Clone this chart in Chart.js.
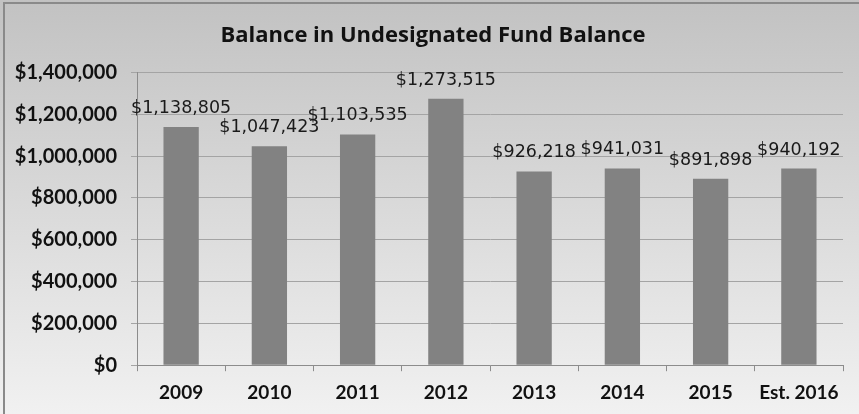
<!DOCTYPE html>
<html>
<head>
<meta charset="utf-8">
<script src="https://cdn.jsdelivr.net/npm/chart.js@4"></script>
<style>
  html, body { margin: 0; padding: 0; background: #fff; }
  #wrap { width: 859px; height: 414px; position: relative; }
</style>
</head>
<body>
<div id="wrap"><canvas id="myChart" width="859" height="414"></canvas></div>
<script>
"use strict";

const years = ['2009', '2010', '2011', '2012', '2013', '2014', '2015', 'Est. 2016'];
const balances = [1138805, 1047423, 1103535, 1273515, 926218, 941031, 891898, 940192];
const yTicks = [0, 200000, 400000, 600000, 800000, 1000000, 1200000, 1400000];

function money(v) {
    return '$' + v.toLocaleString('en-US');
}

// gray gradient behind everything, plus the thin frame at the top/left
const background = {
    id: 'background',
    beforeDraw(chart) {
        const ctx = chart.ctx;
        const w = chart.width, h = chart.height;
        ctx.save();
        let g = ctx.createLinearGradient(0, 0, 0, h);
        g.addColorStop(0, '#c2c2c2');
        g.addColorStop(1, '#f1f1f1');
        ctx.fillStyle = g;
        ctx.fillRect(0, 0, w, h);
        ctx.strokeStyle = '#8a8a8a';
        ctx.lineWidth = 2;
        ctx.beginPath();
        ctx.moveTo(4, h);
        ctx.lineTo(4, 3);
        ctx.lineTo(w, 3);
        ctx.stroke();
        ctx.restore();
    }
};

// value labels above each bar
const barLabels = {
    id: 'barLabels',
    afterDatasetsDraw(chart) {
        const ctx = chart.ctx;
        const meta = chart.getDatasetMeta(0);
        ctx.save();
        ctx.font = '17.5px "DejaVu Sans"';
        ctx.fillStyle = '#1a1a1a';
        ctx.textAlign = 'center';
        ctx.textBaseline = 'alphabetic';
        meta.data.forEach((bar, i) => {
            ctx.fillText(money(balances[i]), bar.x, bar.y - 14);
        });
        ctx.restore();
    }
};

const ctx = document.getElementById('myChart').getContext('2d');
const chart = new Chart(ctx, {
    type: 'bar',
    data: {
        labels: years,
        datasets: [{
            data: balances,
            backgroundColor: '#828282',
            borderWidth: 0,
            barPercentage: 0.8,
            categoryPercentage: 0.5
        }]
    },
    options: {
        responsive: false,
        animation: false,
        layout: {
            padding: { left: 7, right: 0, top: 0, bottom: 0 }
        },
        plugins: {
            legend: { display: false },
            tooltip: { enabled: false },
            title: {
                display: true,
                text: 'Balance in Undesignated Fund Balance',
                color: '#111',
                font: { family: 'Open Sans', size: 22, weight: 'bold' },
                padding: { top: 23, bottom: 23 }
            }
        },
        scales: {
            x: {
                grid: {
                    drawOnChartArea: false,
                    tickLength: 6,
                    color: '#8c8c8c'
                },
                border: { color: '#8c8c8c' },
                ticks: {
                    color: '#111',
                    padding: 10,
                    font: { family: 'Lato', size: 19, weight: 'bold' }
                }
            },
            y: {
                min: 0,
                max: 1400000,
                afterFit(scale) { scale.width = 130; },
                afterBuildTicks(scale) {
                    scale.ticks = yTicks.map(v => ({ value: v }));
                },
                grid: {
                    color: '#a4a4a4',
                    tickLength: 6
                },
                border: { color: '#8c8c8c' },
                ticks: {
                    color: '#111',
                    padding: 14,
                    font: { family: 'Lato', size: 20, weight: 'bold' },
                    callback: v => money(v)
                }
            },
            // empty strip on the right so the plot ends where the original does
            spacer: {
                type: 'linear',
                position: 'right',
                afterFit(scale) { scale.width = 16; },
                grid: { display: false },
                border: { display: false },
                ticks: { display: false }
            }
        }
    },
    plugins: [background, barLabels]
});
</script>
</body>
</html>
